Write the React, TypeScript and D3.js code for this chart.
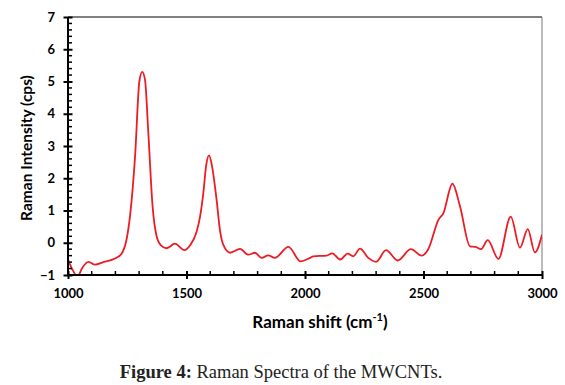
import React, { useEffect, useRef } from "react";
import * as d3 from "d3";

// Raman spectrum (cm-1 vs cps)
const shift = [
  1000, 1020, 1040, 1060, 1086, 1114, 1149, 1198, 1226, 1247, 1262, 1283, 1301, 1313,
  1325, 1339, 1357, 1374, 1392, 1416, 1451, 1491, 1515, 1543, 1557, 1571, 1583, 1595,
  1607, 1627, 1641, 1655, 1684, 1726, 1761, 1789, 1817, 1845, 1873, 1930, 1982, 2021,
  2035, 2091, 2115, 2148, 2180, 2204, 2232, 2267, 2300, 2342, 2391, 2447, 2492, 2520,
  2563, 2584, 2622, 2654, 2696, 2720, 2743, 2771, 2816, 2868, 2907, 2940, 2970, 3000,
];
const intensity = [
  -0.52, -0.85, -1.05, -0.78, -0.59, -0.68, -0.6, -0.49, -0.34, 0.1, 0.85, 2.68, 5.0, 5.3,
  5.05, 3.4, 1.12, 0.2, -0.08, -0.17, -0.03, -0.23, -0.08, 0.35, 0.8, 1.54, 2.4, 2.71,
  2.4, 1.33, 0.4, -0.06, -0.31, -0.19, -0.37, -0.31, -0.47, -0.39, -0.47, -0.13, -0.58, -0.47,
  -0.42, -0.4, -0.33, -0.52, -0.34, -0.42, -0.18, -0.47, -0.59, -0.23, -0.55, -0.2, -0.4, -0.2,
  0.71, 0.92, 1.83, 1.13, -0.11, -0.13, -0.2, 0.08, -0.5, 0.81, -0.15, 0.42, -0.3, 0.25,
];
const xTicks = [1000, 1500, 2000, 2500, 3000];
const yTicks = [-1, 0, 1, 2, 3, 4, 5, 6, 7];

export default function App() {
  const ref = useRef<SVGSVGElement>(null);

  useEffect(() => {
    const svg = d3.select(ref.current);
    svg.selectAll("*").remove();

    const left = 68, right = 542, top = 17, bottom = 275;
    const x = d3.scaleLinear().domain([1000, 3000]).range([left, right]);
    const y = d3.scaleLinear().domain([-1, 7]).range([bottom, top]);
    const font = "Lato, 'DejaVu Sans', sans-serif";

    svg.append("defs").append("clipPath").attr("id", "plot")
      .append("rect").attr("x", left).attr("y", top)
      .attr("width", right - left).attr("height", bottom - top);

    // frame (top + right)
    svg.append("line").attr("x1", left).attr("x2", right).attr("y1", top).attr("y2", top)
      .attr("stroke", "#000").attr("stroke-width", 1);
    svg.append("line").attr("x1", right).attr("x2", right).attr("y1", top).attr("y2", bottom)
      .attr("stroke", "#777").attr("stroke-width", 1);

    // spectrum
    const pts = shift.map((s, i) => [s, intensity[i]] as [number, number]);
    const line = d3.line<[number, number]>()
      .x(d => x(d[0])).y(d => y(d[1]))
      .curve(d3.curveMonotoneX);
    svg.append("path").datum(pts)
      .attr("clip-path", "url(#plot)")
      .attr("d", line)
      .attr("fill", "none")
      .attr("stroke", "#ed1c24")
      .attr("stroke-width", 1.8);

    // minor ticks, inside
    const g = svg.append("g").attr("stroke", "#000").attr("stroke-width", 1.5);
    d3.range(1100, 3000, 100).filter(v => v % 500 !== 0).forEach(v => {
      g.append("line").attr("x1", x(v)).attr("x2", x(v)).attr("y1", bottom - 4).attr("y2", bottom);
    });
    d3.range(-1, 7.01, 0.2).map(v => Math.round(v * 10) / 10)
      .filter(v => Math.abs(v - Math.round(v)) > 0.01).forEach(v => {
        g.append("line").attr("x1", left).attr("x2", left + 4).attr("y1", y(v)).attr("y2", y(v));
      });

    // x axis
    const xa = svg.append("g").attr("transform", `translate(0,${bottom})`)
      .call(d3.axisBottom(x).tickValues(xTicks).tickSize(4).tickFormat(d3.format("d")));
    xa.select(".domain").attr("stroke-width", 2).attr("d", `M${left},0H${right}`);
    xa.selectAll(".tick line").attr("y1", -4).attr("y2", 4).attr("stroke-width", 2);
    xa.selectAll(".tick text").attr("y", 14).attr("dy", "0.71em")
      .attr("font-family", font).attr("font-weight", "bold").attr("font-size", 13).attr("fill", "#000");

    // y axis
    const ya = svg.append("g").attr("transform", `translate(${left},0)`)
      .call(d3.axisLeft(y).tickValues(yTicks).tickSize(4.5).tickFormat(d3.format("d")));
    ya.select(".domain").attr("stroke-width", 2).attr("d", `M0,${bottom}V${top}`);
    ya.selectAll(".tick line").attr("x1", -4.5).attr("x2", 4.5).attr("stroke-width", 2);
    ya.selectAll(".tick text").attr("x", -13)
      .attr("font-family", font).attr("font-weight", "bold").attr("font-size", 13).attr("fill", "#000");

    // axis titles
    svg.append("text")
      .attr("transform", `translate(28,${(top + bottom) / 2 + 2}) rotate(-90)`)
      .attr("text-anchor", "middle").attr("dominant-baseline", "middle")
      .attr("font-family", font).attr("font-weight", "bold").attr("font-size", 15.5)
      .text("Raman Intensity (cps)");

    const xt = svg.append("text")
      .attr("x", 320).attr("y", 328)
      .attr("text-anchor", "middle")
      .attr("font-family", font).attr("font-weight", "bold").attr("font-size", 17);
    xt.append("tspan").text("Raman shift (cm");
    xt.append("tspan").attr("font-size", 11).attr("dy", -7).text("-1");
    xt.append("tspan").attr("dy", 7).text(")");

    // caption
    const cap = svg.append("text")
      .attr("x", 281).attr("y", 378)
      .attr("text-anchor", "middle")
      .attr("font-family", "'Liberation Serif', 'DejaVu Serif', serif").attr("font-size", 18.5)
      .attr("fill", "#222");
    cap.append("tspan").attr("font-weight", "bold").text("Figure 4:");
    cap.append("tspan").text(" Raman Spectra of the MWCNTs.");
  }, []);

  return (
    <svg
      ref={ref}
      width={565}
      height={385}
      style={{ position: "absolute", left: 0, top: 0, background: "#fff" }}
    />
  );
}
